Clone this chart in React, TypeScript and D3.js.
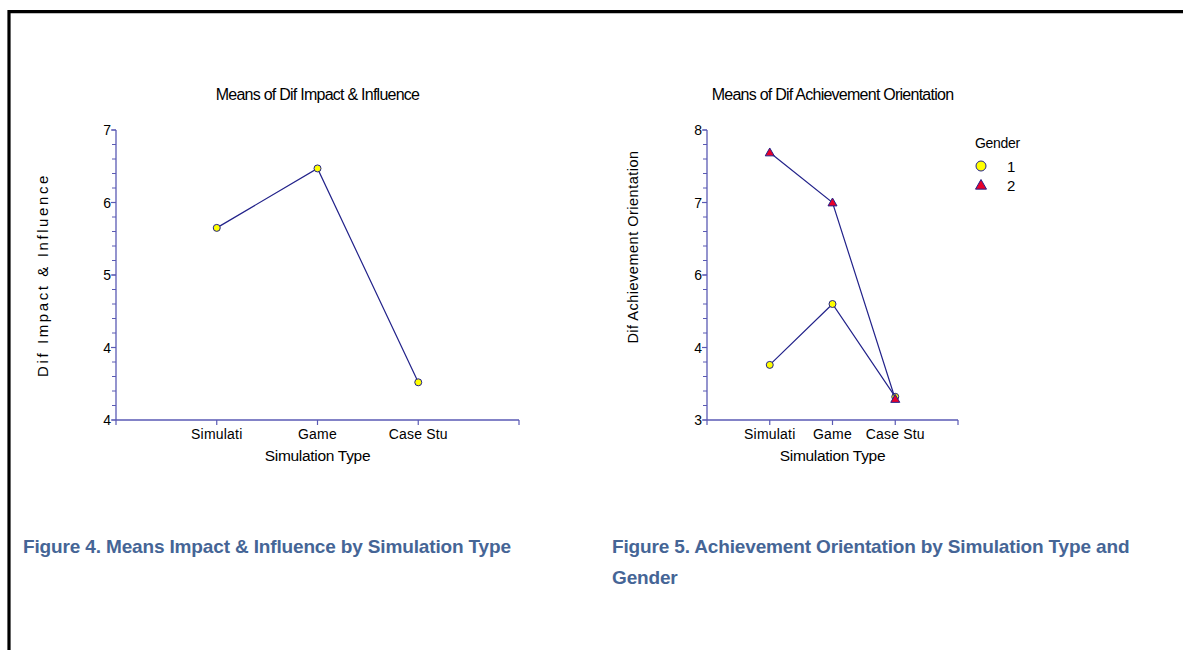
import React from "react";
import * as d3 from "d3";

const categories = ["Simulati", "Game", "Case Stu"];
const impactMeans = [5.65, 6.47, 3.52];
const leftTickValues = [3, 4, 5, 6, 7];
const leftTickLabels = ["4", "4", "5", "6", "7"];

const achieveGender1 = [4.76, 5.6, 4.32];
const achieveGender2 = [7.69, 7.0, 4.29];
const rightTickValues = [4, 5, 6, 7, 8];
const rightTickLabels = ["3", "4", "6", "7", "8"];

const legendLabels = ["1", "2"];

const AXIS = "#5a5ab4";
const LINE = "#22228a";
const CAPTION = "#456596";
const FONT = "'Liberation Sans', Arial, sans-serif";
const CAPFONT = "'Liberation Sans Narrow', 'Liberation Sans', sans-serif";

type PanelProps = {
  x0: number;
  x1: number;
  yTop: number;
  yBot: number;
  domain: [number, number];
  tickValues: number[];
  tickLabels: string[];
  title: string;
  yTitle: string;
  yTitleX: number;
  yTitleY: number;
  yTitleSize: number;
  yTitleSpacing: number;
  series: { values: number[]; shape: "circle" | "triangle" }[];
};

function Triangle({ cx, cy, s }: { cx: number; cy: number; s: number }) {
  const p = `M${cx},${cy - s} L${cx + s},${cy + s * 0.75} L${cx - s},${cy + s * 0.75} Z`;
  return <path d={p} fill="#e8002a" stroke={LINE} strokeWidth={1} />;
}

function Panel(p: PanelProps) {
  const x = d3.scaleLinear().domain([0, categories.length + 1]).range([p.x0, p.x1]);
  const y = d3.scaleLinear().domain(p.domain).range([p.yBot, p.yTop]);
  const xTicks = d3.range(0, categories.length + 2);
  const minor = d3.range(p.domain[0], p.domain[1] + 1e-6, 0.2);
  const line = d3
    .line<number>()
    .x((_, i) => x(i + 1))
    .y((v) => y(v));
  const cx = (p.x0 + p.x1) / 2;
  return (
    <g>
      <text x={cx} y={100} textAnchor="middle" fontSize={16} fontFamily={FONT} letterSpacing={-0.75} fill="#000">
        {p.title}
      </text>
      <line x1={p.x0} x2={p.x0} y1={p.yTop} y2={p.yBot} stroke={AXIS} strokeWidth={1.3} />
      <line x1={p.x0} x2={p.x1} y1={p.yBot} y2={p.yBot} stroke={AXIS} strokeWidth={1.3} />
      {minor.map((v, i) => (
        <line key={"m" + i} x1={p.x0 - 4} x2={p.x0} y1={y(v)} y2={y(v)} stroke={AXIS} strokeWidth={1} />
      ))}
      {p.tickValues.map((v, i) => (
        <g key={"t" + i}>
          <line x1={p.x0 - 5} x2={p.x0} y1={y(v)} y2={y(v)} stroke={AXIS} strokeWidth={1.2} />
          <text x={p.x0 - 5} y={y(v) + 5} textAnchor="end" fontSize={14} fontFamily={FONT} fill="#000">
            {p.tickLabels[i]}
          </text>
        </g>
      ))}
      {xTicks.map((t) => (
        <line key={"x" + t} x1={x(t)} x2={x(t)} y1={p.yBot} y2={p.yBot + 5} stroke={AXIS} strokeWidth={1.2} />
      ))}
      {categories.map((c, i) => (
        <text key={c} x={x(i + 1)} y={p.yBot + 18.5} textAnchor="middle" fontSize={14} fontFamily={FONT} letterSpacing={0.2} fill="#000">
          {c}
        </text>
      ))}
      <text x={x((categories.length + 1) / 2)} y={p.yBot + 41} textAnchor="middle" fontSize={15.5} fontFamily={FONT} letterSpacing={-0.3} fill="#000">
        Simulation Type
      </text>
      <text
        transform={`translate(${p.yTitleX},${p.yTitleY}) rotate(-90)`}
        textAnchor="middle"
        fontSize={p.yTitleSize}
        fontFamily={FONT}
        letterSpacing={p.yTitleSpacing}
        fill="#000"
      >
        {p.yTitle}
      </text>
      {p.series.map((s, si) => (
        <g key={"s" + si}>
          <path d={line(s.values) || ""} fill="none" stroke={LINE} strokeWidth={1.2} />
          {s.values.map((v, i) =>
            s.shape === "circle" ? (
              <circle key={i} cx={x(i + 1)} cy={y(v)} r={3.5} fill="#ffff00" stroke={LINE} strokeWidth={1} />
            ) : (
              <Triangle key={i} cx={x(i + 1)} cy={y(v)} s={4.5} />
            )
          )}
        </g>
      ))}
    </g>
  );
}

export default function App() {
  return (
    <svg width={1183} height={650} style={{ position: "absolute", left: 0, top: 0, background: "#fff" }}>
      <rect x={0} y={0} width={1183} height={650} fill="#fff" />
      <path d="M9,650 V11.7 H1183" fill="none" stroke="#000" strokeWidth={3.2} />
      <Panel
        x0={116}
        x1={519}
        yTop={130}
        yBot={420}
        domain={[3, 7]}
        tickValues={leftTickValues}
        tickLabels={leftTickLabels}
        title="Means of Dif Impact & Influence"
        yTitle="Dif Impact & Influence"
        yTitleX={48}
        yTitleY={275}
        yTitleSize={15}
        yTitleSpacing={2.6}
        series={[{ values: impactMeans, shape: "circle" }]}
      />
      <Panel
        x0={707}
        x1={958}
        yTop={130}
        yBot={420}
        domain={[4, 8]}
        tickValues={rightTickValues}
        tickLabels={rightTickLabels}
        title="Means of Dif Achievement Orientation"
        yTitle="Dif Achievement Orientation"
        yTitleX={638}
        yTitleY={247}
        yTitleSize={14.5}
        yTitleSpacing={0.5}
        series={[
          { values: achieveGender1, shape: "circle" },
          { values: achieveGender2, shape: "triangle" },
        ]}
      />
      <text x={975} y={148} fontSize={14} fontFamily={FONT} letterSpacing={-0.3} fill="#000">
        Gender
      </text>
      <circle cx={981} cy={166} r={5} fill="#ffff00" stroke={LINE} strokeWidth={1} />
      <text x={1007} y={171.5} fontSize={15} fontFamily={FONT} fill="#000">
        {legendLabels[0]}
      </text>
      <Triangle cx={981} cy={185} s={5.5} />
      <text x={1007} y={191} fontSize={15} fontFamily={FONT} fill="#000">
        {legendLabels[1]}
      </text>
      <text x={23} y={553} fontSize={19} fontWeight="bold" fontFamily={CAPFONT} letterSpacing={-0.15} fill={CAPTION}>
        Figure 4. Means Impact &amp; Influence by Simulation Type
      </text>
      <text x={612} y={553} fontSize={19} fontWeight="bold" fontFamily={CAPFONT} letterSpacing={-0.15} fill={CAPTION}>
        Figure 5. Achievement Orientation by Simulation Type and
      </text>
      <text x={612} y={584} fontSize={19} fontWeight="bold" fontFamily={CAPFONT} letterSpacing={-0.15} fill={CAPTION}>
        Gender
      </text>
    </svg>
  );
}
